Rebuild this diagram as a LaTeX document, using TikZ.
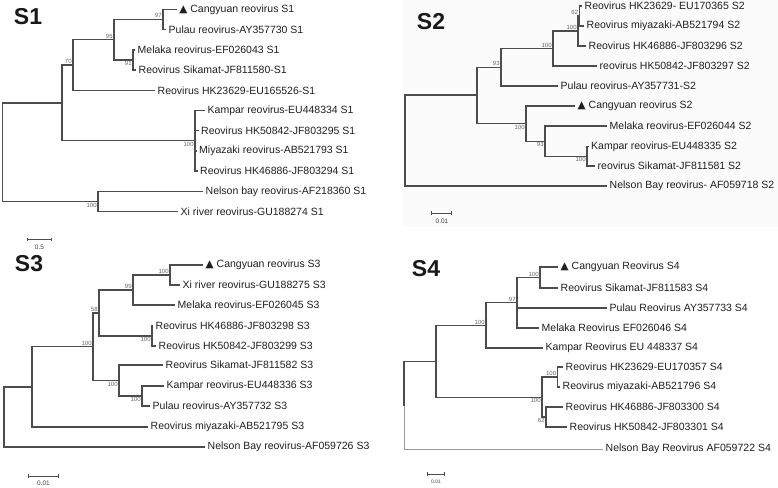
\documentclass[tikz,border=0pt]{standalone}
\usepackage{fontspec}
\setmainfont{Liberation Sans}
\newfontfamily\symfont{DejaVu Sans}
\usetikzlibrary{arrows.meta,positioning}
\newcommand{\cangmark}{{\symfont\fontsize{10.5}{10}\selectfont ▲}}

\begin{document}
\begin{tikzpicture}[
    x=1pt, y=-1pt,
    branch/.style={draw=black!70, line width=1.2pt},
    faint/.style={draw=black!40, line width=0.9pt},
    tip/.style={anchor=west, inner xsep=2.5pt, inner ysep=0pt, text=black!88, font=\fontsize{10.5}{12}\selectfont},
    boot/.style={inner sep=1.2pt, text=black!60, font=\fontsize{6}{6}\selectfont},
    bootup/.style={boot, anchor=south east},
    bootlow/.style={boot, anchor=north east},
    title/.style={inner sep=0pt, text=black!90, font=\fontsize{23}{23}\selectfont\bfseries},
    scalebar/.style={branch, line width=0.9pt, {Bar[width=3.5pt]}-{Bar[width=3.5pt]}},
    scalelabel/.style={inner sep=0pt, text=black!75, font=\fontsize{6.5}{7}\selectfont}
]
\useasboundingbox (0,0) rectangle (778,487);
\fill[black!1.5] (403,0) rectangle (778,227);

% ---------- S1 ----------
\node[title] (s1title) at (28,17) {S1};

\coordinate (s1root) at (2.7,152.3);
\coordinate (s1a) at (62,103);
\coordinate (s1n70) at (73,65);
\coordinate (s1n95) at (114,39.7);
\coordinate (s1n97) at (163,19.4);
\coordinate (s1n91) at (133,60);
\coordinate (s1nk) at (195,140.8);
\coordinate (s1nx) at (98,201.6);

\node[tip] (s1cang) at (176.7,9.3) {\cangmark\ Cangyuan reovirus S1};
\node[tip] (s1pulau) at (166,29.5) {Pulau reovirus-AY357730 S1};
\node[tip] (s1melaka) at (135,50) {Melaka reovirus-EF026043 S1};
\node[tip] (s1sikamat) at (136,70) {Reovirus Sikamat-JF811580-S1};
\node[tip] (s1hka) at (155,90.3) {Reovirus HK23629-EU165526-S1};
\node[tip] (s1kampar) at (205,110.5) {Kampar reovirus-EU448334 S1};
\node[tip] (s1hkb) at (198.5,130.5) {Reovirus HK50842-JF803295 S1};
\node[tip] (s1miya) at (196.5,151) {Miyazaki reovirus-AB521793 S1};
\node[tip] (s1hkc) at (197.5,171) {Reovirus HK46886-JF803294 S1};
\node[tip] (s1nelson) at (203,191.5) {Nelson bay reovirus-AF218360 S1};
\node[tip] (s1xi) at (178,211.7) {Xi river reovirus-GU188274 S1};

\draw[branch] (s1root) |- (s1a);
\draw[branch] (s1root) |- (s1nx);
\draw[branch] (s1a) |- (s1n70);
\draw[branch] (s1a) |- (s1nk);
\draw[branch] (s1n70) |- (s1n95);
\draw[branch] (s1n70) |- (s1hka.west);
\draw[branch] (s1n95) |- (s1n97);
\draw[branch] (s1n95) |- (s1n91);
\draw[branch] (s1n97) |- (s1cang.west);
\draw[branch] (s1n97) |- (s1pulau.west);
\draw[branch] (s1n91) |- (s1melaka.west);
\draw[branch] (s1n91) |- (s1sikamat.west);
\draw[branch] (s1nk) |- (s1kampar.west);
\draw[branch] (s1nk) |- (s1hkb.west);
\draw[branch] (s1nk) |- (s1miya.west);
\draw[branch] (s1nk) |- (s1hkc.west);
\draw[branch] (s1nx) |- (s1nelson.west);
\draw[branch] (s1nx) |- (s1xi.west);

\node[bootup] (s1b97) at (s1n97) {97};
\node[bootup] (s1b95) at (s1n95) {95};
\node[bootup] (s1b70) at (s1n70) {70};
\node[bootlow] (s1b91) at (s1n91) {91};
\node[bootlow] (s1bk) at (s1nk) {100};
\node[bootlow] (s1bx) at (s1nx) {100};

\coordinate (s1sbl) at (27,239.3);
\coordinate (s1sbr) at (52,239.3);
\draw[scalebar] (s1sbl) -- (s1sbr);
\node[scalelabel] (s1sbt) at (39.5,247) {0.5};

% ---------- S2 ----------
\node[title] (s2title) at (431,22) {S2};

\coordinate (s2root) at (405,140.5);
\coordinate (s2a) at (477,95);
\coordinate (s2n93) at (501,67.2);
\coordinate (s2n100b) at (553,48.5);
\coordinate (s2n100a) at (578,31);
\coordinate (s2n62) at (579.5,16);
\coordinate (s2n100c) at (526,123.6);
\coordinate (s2n93b) at (545,141.2);
\coordinate (s2n100d) at (587,156.3);

\node[tip] (s2hka) at (582,6) {Reovirus HK23629- EU170365 S2};
\node[tip] (s2miya) at (584,26) {Reovirus miyazaki-AB521794 S2};
\node[tip] (s2hkc) at (586,46) {Reovirus HK46886-JF803296 S2};
\node[tip] (s2hkb) at (597,66) {reovirus HK50842-JF803297 S2};
\node[tip] (s2pulau) at (558,86) {Pulau reovirus-AY357731-S2};
\node[tip] (s2cang) at (575,106) {\cangmark\ Cangyuan reovirus S2};
\node[tip] (s2melaka) at (607,126) {Melaka reovirus-EF026044 S2};
\node[tip] (s2kampar) at (588.5,146.5) {Kampar reovirus-EU448335 S2};
\node[tip] (s2sikamat) at (595,166) {reovirus Sikamat-JF811581 S2};
\node[tip] (s2nelson) at (607,186) {Nelson Bay reovirus- AF059718 S2};

\draw[branch] (s2root) |- (s2a);
\draw[branch] (s2root) |- (s2nelson.west);
\draw[branch] (s2a) |- (s2n93);
\draw[branch] (s2a) |- (s2n100c);
\draw[branch] (s2n93) |- (s2n100b);
\draw[branch] (s2n93) |- (s2pulau.west);
\draw[branch] (s2n100b) |- (s2n100a);
\draw[branch] (s2n100b) |- (s2hkb.west);
\draw[branch] (s2n100a) |- (s2n62);
\draw[branch] (s2n100a) |- (s2hkc.west);
\draw[branch] (s2n62) |- (s2hka.west);
\draw[branch] (s2n62) |- (s2miya.west);
\draw[branch] (s2n100c) |- (s2cang.west);
\draw[branch] (s2n100c) |- (s2n93b);
\draw[branch] (s2n93b) |- (s2melaka.west);
\draw[branch] (s2n93b) |- (s2n100d);
\draw[branch] (s2n100d) |- (s2kampar.west);
\draw[branch] (s2n100d) |- (s2sikamat.west);

\node[bootup] (s2b62) at (s2n62) {62};
\node[bootup] (s2b100a) at (s2n100a) {100};
\node[bootup] (s2b100b) at (s2n100b) {100};
\node[bootup] (s2b93) at (s2n93) {93};
\node[bootlow] (s2b100c) at (s2n100c) {100};
\node[bootlow] (s2b93b) at (s2n93b) {93};
\node[bootlow] (s2b100d) at (s2n100d) {100};

\coordinate (s2sbl) at (431,213);
\coordinate (s2sbr) at (452,213);
\draw[scalebar] (s2sbl) -- (s2sbr);
\node[scalelabel] (s2sbt) at (442,221) {0.01};

% ---------- S3 ----------
\node[title] (s3title) at (29,264) {S3};

\coordinate (s3root) at (4,417);
\coordinate (s3a) at (32,386.9);
\coordinate (s3n100) at (93,346.8);
\coordinate (s3n58) at (99,313);
\coordinate (s3n99) at (133,290);
\coordinate (s3n100a) at (170,275);
\coordinate (s3n100d) at (152,336);
\coordinate (s3n100e) at (119,380.5);
\coordinate (s3n100f) at (142,396);

\node[tip] (s3cang) at (203,265) {\cangmark\ Cangyuan reovirus S3};
\node[tip] (s3xi) at (180,285) {Xi river reovirus-GU188275 S3};
\node[tip] (s3melaka) at (175,305) {Melaka reovirus-EF026045 S3};
\node[tip] (s3hkc) at (153,326) {Reovirus HK46886-JF803298 S3};
\node[tip] (s3hkb) at (156,346) {Reovirus HK50842-JF803299 S3};
\node[tip] (s3sikamat) at (163,365) {Reovirus Sikamat-JF811582 S3};
\node[tip] (s3kampar) at (164,386) {Kampar reovirus-EU448336 S3};
\node[tip] (s3pulau) at (150,406) {Pulau reovirus-AY357732 S3};
\node[tip] (s3miya) at (148,427) {Reovirus miyazaki-AB521795 S3};
\node[tip] (s3nelson) at (205,447) {Nelson Bay reovirus-AF059726 S3};

\draw[branch] (s3root) |- (s3a);
\draw[branch] (s3root) |- (s3nelson.west);
\draw[branch] (s3a) |- (s3n100);
\draw[branch] (s3a) |- (s3miya.west);
\draw[branch] (s3n100) |- (s3n58);
\draw[branch] (s3n100) |- (s3n100e);
\draw[branch] (s3n58) |- (s3n99);
\draw[branch] (s3n58) |- (s3n100d);
\draw[branch] (s3n99) |- (s3n100a);
\draw[branch] (s3n99) |- (s3melaka.west);
\draw[branch] (s3n100a) |- (s3cang.west);
\draw[branch] (s3n100a) |- (s3xi.west);
\draw[branch] (s3n100d) |- (s3hkc.west);
\draw[branch] (s3n100d) |- (s3hkb.west);
\draw[branch] (s3n100e) |- (s3sikamat.west);
\draw[branch] (s3n100e) |- (s3n100f);
\draw[branch] (s3n100f) |- (s3kampar.west);
\draw[branch] (s3n100f) |- (s3pulau.west);

\node[bootup] (s3b100a) at (s3n100a) {100};
\node[bootup] (s3b99) at (s3n99) {99};
\node[bootup] (s3b58) at (s3n58) {58};
\node[bootup] (s3b100) at (s3n100) {100};
\node[bootlow] (s3b100d) at (s3n100d) {100};
\node[bootlow] (s3b100e) at (s3n100e) {100};
\node[bootlow] (s3b100f) at (s3n100f) {100};

\coordinate (s3sbl) at (28,476);
\coordinate (s3sbr) at (59,476);
\draw[scalebar] (s3sbl) -- (s3sbr);
\node[scalelabel] (s3sbt) at (43.5,483) {0.01};

% ---------- S4 ----------
\node[title] (s4title) at (426,269) {S4};

\coordinate (s4root) at (404,405.5);
\coordinate (s4a) at (436,361.8);
\coordinate (s4n100a) at (486,325.5);
\coordinate (s4n97) at (517,302.8);
\coordinate (s4n100) at (540,277.5);
\coordinate (s4n100c) at (542,397.2);
\coordinate (s4n100d) at (557.5,377);
\coordinate (s4n62) at (546,417);

\node[tip] (s4cang) at (558,267) {\cangmark\ Cangyuan Reovirus S4};
\node[tip] (s4sikamat) at (558,288) {Reovirus Sikamat-JF811583 S4};
\node[tip] (s4pulau) at (607,308) {Pulau Reovirus AY357733 S4};
\node[tip] (s4melaka) at (539,328) {Melaka Reovirus EF026046 S4};
\node[tip] (s4kampar) at (543,348) {Kampar Reovirus EU 448337 S4};
\node[tip] (s4hka) at (563,367) {Reovirus HK23629-EU170357 S4};
\node[tip] (s4miya) at (560,387) {Reovirus miyazaki-AB521796 S4};
\node[tip] (s4hkc) at (563,407) {Reovirus HK46886-JF803300 S4};
\node[tip] (s4hkb) at (567,427) {Reovirus HK50842-JF803301 S4};
\node[tip] (s4nelson) at (603,449) {Nelson Bay Reovirus AF059722 S4};

\draw[branch] (s4root) |- (s4a);
\draw[faint] (s4root) |- (s4nelson.west);
\draw[branch] (s4a) |- (s4n100a);
\draw[branch] (s4a) |- (s4n100c);
\draw[branch] (s4n100a) |- (s4n97);
\draw[branch] (s4n100a) |- (s4kampar.west);
\draw[branch] (s4n97) |- (s4n100);
\draw[branch] (s4n97) |- (s4pulau.west);
\draw[branch] (s4n97) |- (s4melaka.west);
\draw[branch] (s4n100) |- (s4cang.west);
\draw[branch] (s4n100) |- (s4sikamat.west);
\draw[branch] (s4n100c) |- (s4n100d);
\draw[branch] (s4n100c) |- (s4n62);
\draw[branch] (s4n100d) |- (s4hka.west);
\draw[branch] (s4n100d) |- (s4miya.west);
\draw[branch] (s4n62) |- (s4hkc.west);
\draw[branch] (s4n62) |- (s4hkb.west);

\node[bootup] (s4b100) at (s4n100) {100};
\node[bootup] (s4b97) at (s4n97) {97};
\node[bootup] (s4b100a) at (s4n100a) {100};
\node[bootup] (s4b100d) at (s4n100d) {100};
\node[bootlow] (s4b100c) at (s4n100c) {100};
\node[bootlow] (s4b62) at (s4n62) {62};

\coordinate (s4sbl) at (427,474);
\coordinate (s4sbr) at (445,474);
\draw[scalebar] (s4sbl) -- (s4sbr);
\node[scalelabel, font=\fontsize{5}{6}\selectfont] (s4sbt) at (436,482) {0.01};

\end{tikzpicture}
\end{document}
